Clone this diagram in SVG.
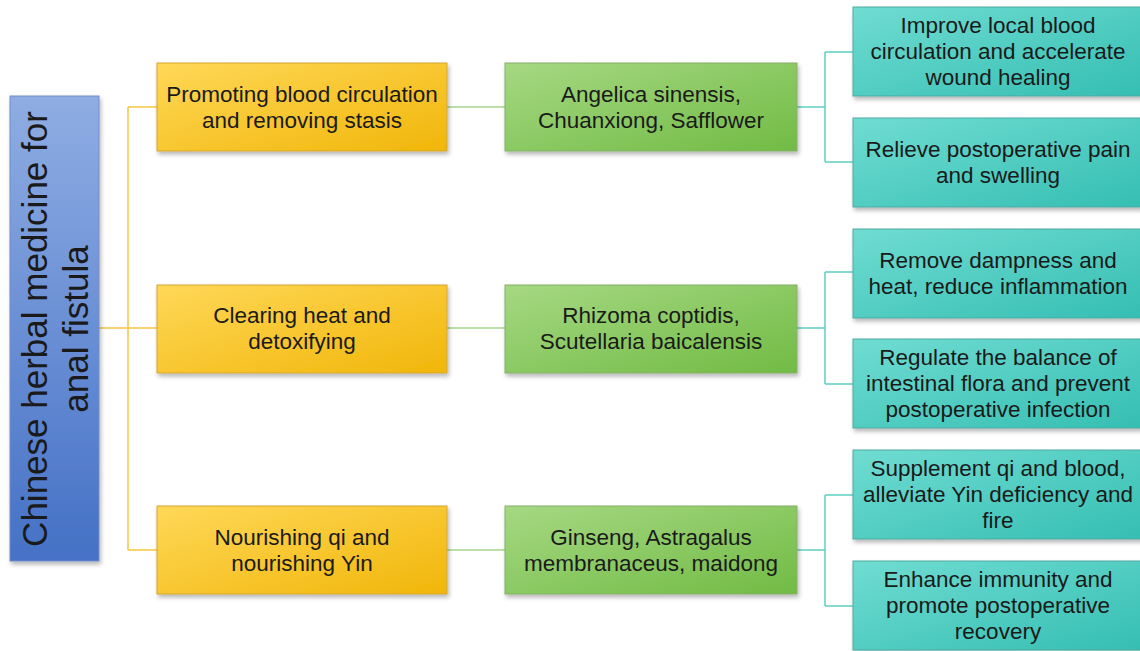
<svg xmlns="http://www.w3.org/2000/svg" width="1140" height="651" viewBox="0 0 1140 651">
<defs>
<linearGradient id="gY" x1="0" y1="0" x2="1" y2="1"><stop offset="0" stop-color="#FFD858"/><stop offset="1" stop-color="#F1B60A"/></linearGradient>
<linearGradient id="gG" x1="0" y1="0" x2="1" y2="1"><stop offset="0" stop-color="#A6D883"/><stop offset="1" stop-color="#71BB44"/></linearGradient>
<linearGradient id="gT" x1="0" y1="0" x2="1" y2="1"><stop offset="0" stop-color="#70DCD2"/><stop offset="1" stop-color="#35BEB2"/></linearGradient>
<linearGradient id="gB" x1="0" y1="0" x2="0" y2="1"><stop offset="0" stop-color="#8FADE3"/><stop offset="1" stop-color="#4571C6"/></linearGradient>
<filter id="sh" x="-10%" y="-10%" width="120%" height="130%"><feDropShadow dx="1.5" dy="3" stdDeviation="2.2" flood-color="#000" flood-opacity="0.28"/></filter>
</defs>
<style>
text{font-family:"Liberation Sans",Arial,sans-serif;font-size:22.5px;fill:#1a1a1a;text-anchor:middle}
.y{fill:url(#gY);stroke:#D3A632;stroke-width:1}
.g{fill:url(#gG);stroke:#86AE6A;stroke-width:1}
.t{fill:url(#gT);stroke:#4FA9A0;stroke-width:1}
.b{fill:url(#gB);stroke:#6F8DC6;stroke-width:1}
.cy{fill:none;stroke:#F5C640;stroke-width:1.5}
.cg{fill:none;stroke:#A6D68A;stroke-width:1.5}
.ct{fill:none;stroke:#5DCFC4;stroke-width:1.5}
.root{font-size:35px}
</style>
<g id="connectors">
<path class="cy" d="M99 328H128M128 107V550M128 107H157M128 328H157M128 550H157"/>
<path class="cg" d="M447 107H505M447 328H505M447 550H505"/>
<path class="ct" d="M797 107H825M825 52V162M825 52H853M825 162H853"/>
<path class="ct" d="M797 328H825M825 272V384M825 272H853M825 384H853"/>
<path class="ct" d="M797 550H825M825 495V606M825 495H853M825 606H853"/>
</g>
<g id="root"><rect class="b" x="10" y="96" width="89" height="465" filter="url(#sh)"/>
<g transform="translate(0,329) rotate(-90)"><text class="root" x="0" y="47">Chinese herbal medicine for</text><text class="root" x="0" y="88">anal fistula</text></g></g>
<g id="y1"><rect class="y" x="157" y="63" width="290" height="88" filter="url(#sh)"/><text x="302" y="102">Promoting blood circulation</text><text x="302" y="128">and removing stasis</text></g>
<g id="y2"><rect class="y" x="157" y="285" width="290" height="88" filter="url(#sh)"/><text x="302" y="323">Clearing heat and</text><text x="302" y="349">detoxifying</text></g>
<g id="y3"><rect class="y" x="157" y="506" width="290" height="88" filter="url(#sh)"/><text x="302" y="545">Nourishing qi and</text><text x="302" y="571">nourishing Yin</text></g>
<g id="g1"><rect class="g" x="505" y="63" width="292" height="88" filter="url(#sh)"/><text x="651" y="102">Angelica sinensis,</text><text x="651" y="128">Chuanxiong, Safflower</text></g>
<g id="g2"><rect class="g" x="505" y="285" width="292" height="88" filter="url(#sh)"/><text x="651" y="323">Rhizoma coptidis,</text><text x="651" y="349">Scutellaria baicalensis</text></g>
<g id="g3"><rect class="g" x="505" y="506" width="292" height="88" filter="url(#sh)"/><text x="651" y="545">Ginseng, Astragalus</text><text x="651" y="571">membranaceus, maidong</text></g>
<g id="t1"><rect class="t" x="853" y="7" width="290" height="89" filter="url(#sh)"/><text x="998" y="33">Improve local blood</text><text x="998" y="59">circulation and accelerate</text><text x="998" y="85">wound healing</text></g>
<g id="t2"><rect class="t" x="853" y="118" width="290" height="89" filter="url(#sh)"/><text x="998" y="157">Relieve postoperative pain</text><text x="998" y="183">and swelling</text></g>
<g id="t3"><rect class="t" x="853" y="229" width="290" height="89" filter="url(#sh)"/><text x="998" y="268">Remove dampness and</text><text x="998" y="294">heat, reduce inflammation</text></g>
<g id="t4"><rect class="t" x="853" y="339" width="290" height="89" filter="url(#sh)"/><text x="998" y="365">Regulate the balance of</text><text x="998" y="391">intestinal flora and prevent</text><text x="998" y="417">postoperative infection</text></g>
<g id="t5"><rect class="t" x="853" y="450" width="290" height="89" filter="url(#sh)"/><text x="998" y="476">Supplement qi and blood,</text><text x="998" y="502">alleviate Yin deficiency and</text><text x="998" y="528">fire</text></g>
<g id="t6"><rect class="t" x="853" y="561" width="290" height="89" filter="url(#sh)"/><text x="998" y="587">Enhance immunity and</text><text x="998" y="613">promote postoperative</text><text x="998" y="639">recovery</text></g>
</svg>
